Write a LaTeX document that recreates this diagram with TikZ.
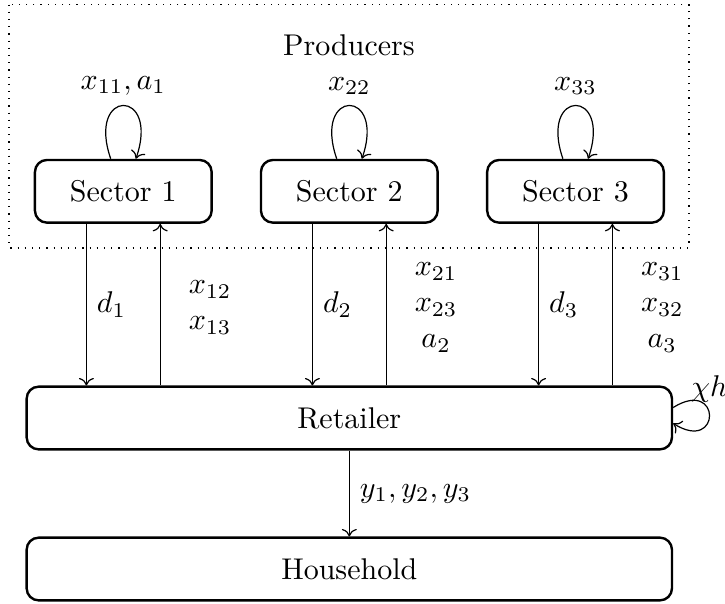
\documentclass[tikz,border=0pt]{standalone}
\usetikzlibrary{arrows.meta}
\begin{document}
\begin{tikzpicture}[x=0.33333pt,y=0.33333pt,
  >={To[width=5pt,length=2.5pt]},
  box/.style={draw,thick,rounded corners=4pt,minimum height=20.9pt},
  sectorbox/.style={box,minimum width=58.9pt},
  widebox/.style={box,minimum width=215.1pt},
  flow/.style={->},
  selfloop/.style={->,out=109,in=71,distance=25pt}]
\useasboundingbox (0,0) rectangle (725,603);

% producers group
\draw[dotted] (9,598.5) rectangle (689,355);
\node (prod) at (349,558) {Producers};

% boxes
\node[sectorbox] (s1) at (123.3,411.7) {Sector 1};
\node[sectorbox] (s2) at (349.3,411.7) {Sector 2};
\node[sectorbox] (s3) at (575.5,411.7) {Sector 3};
\node[widebox] (r) at (349.3,185) {Retailer};
\node[widebox] (h) at (349.3,34) {Household};

% own-use loops
\draw[selfloop] ([xshift=-4.2pt]s1.north) to node[above] {$x_{11}, a_1$} ([xshift=4.2pt]s1.north);
\draw[selfloop] ([xshift=-4.2pt]s2.north) to node[above] {$x_{22}$} ([xshift=4.2pt]s2.north);
\draw[selfloop] ([xshift=-4.2pt]s3.north) to node[above] {$x_{33}$} ([xshift=4.2pt]s3.north);
\draw[flow] ([yshift=3.5pt]r.east) to[out=32,in=-32,distance=19pt] node[above,yshift=1pt] {$\chi h$} ([yshift=-1.8pt]r.east);

% sector 1 flows
\coordinate (s1d) at ([xshift=-12.3pt]s1.south);
\coordinate (s1u) at ([xshift=12.3pt]s1.south);
\draw[flow] (s1d) -- (s1d |- r.north) node[midway,right] {$d_1$};
\draw[flow] (s1u |- r.north) -- (s1u) node[midway,right] {\begin{tabular}{c}$x_{12}$\\$x_{13}$\end{tabular}};

% sector 2 flows
\coordinate (s2d) at ([xshift=-12.3pt]s2.south);
\coordinate (s2u) at ([xshift=12.3pt]s2.south);
\draw[flow] (s2d) -- (s2d |- r.north) node[midway,right] {$d_2$};
\draw[flow] (s2u |- r.north) -- (s2u) node[midway,right] {\begin{tabular}{c}$x_{21}$\\$x_{23}$\\$a_2$\end{tabular}};

% sector 3 flows
\coordinate (s3d) at ([xshift=-12.3pt]s3.south);
\coordinate (s3u) at ([xshift=12.3pt]s3.south);
\draw[flow] (s3d) -- (s3d |- r.north) node[midway,right] {$d_3$};
\draw[flow] (s3u |- r.north) -- (s3u) node[midway,right] {\begin{tabular}{c}$x_{31}$\\$x_{32}$\\$a_3$\end{tabular}};

% retailer to household
\draw[flow] (r.south) -- (h.north) node[midway,right] {$y_1, y_2, y_3$};
\end{tikzpicture}
\end{document}
